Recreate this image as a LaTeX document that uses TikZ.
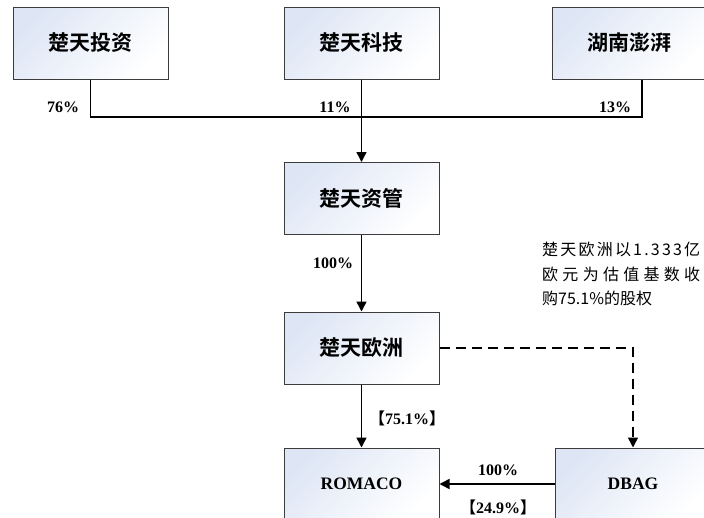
\documentclass[tikz,border=0pt]{standalone}
\usepackage{fontspec}
\setmainfont{Liberation Serif}
\newfontfamily\cjk{Noto Sans CJK SC}[BoldFont={Noto Sans CJK SC Bold}]
\usetikzlibrary{arrows.meta}
\definecolor{boxblue}{RGB}{222,230,245}
\definecolor{boxline}{RGB}{60,60,60}

\begin{document}
\begin{tikzpicture}
[x=1pt, y=-1pt,
 box/.style={draw=boxline, line width=1pt, minimum width=155pt, minimum height=72pt, inner sep=0pt,
   top color=boxblue, bottom color=white, shading angle=45},
 cn/.style={font=\cjk\bfseries\fontsize{21}{21}\selectfont},
 en/.style={font=\bfseries\fontsize{17.5}{17.5}\selectfont},
 pct/.style={font=\bfseries\fontsize{16}{16}\selectfont, inner sep=0pt},
 link/.style={line width=1.5pt},
 tip/.style={-{Triangle[width=10pt,length=10pt]}}]

\clip (0,0) rectangle (704,517);

\node (touzi) at (90.5, 43) [box, cn] {楚天投资};
\node (keji) at (361.5, 43) [box, cn] {楚天科技};
\node (hunan) at (629.5, 43) [box, cn] {湖南澎湃};
\node (ziguan) at (361.5, 198.5) [box, cn] {楚天资管};
\node (ouzhou) at (361.5, 348) [box, cn] {楚天欧洲};
\node (romaco) at (361.5, 484) [box, en] {ROMACO};
\node (dbag) at (633, 484) [box, en] {DBAG};

\coordinate (bus) at (361.5, 117);
\coordinate (bend) at (633, 348);

\node (p76) at (63, 107) [pct] {76\%};
\node (p11) at (335, 107) [pct] {11\%};
\node (p13) at (615, 107) [pct] {13\%};
\node (p100a) at (333, 263) [pct] {100\%};
\node (p751) at (407, 418) [pct] {{\cjk\bfseries 【}75.1\%{\cjk\bfseries 】}};
\node (p100b) at (498, 470) [pct] {100\%};
\node (p249) at (498, 507.5) [pct] {{\cjk\bfseries 【}24.9\%{\cjk\bfseries 】}};

\node (note) at (542, 274) [anchor=west, align=left, inner sep=0pt,
  font=\cjk\fontsize{16}{24.5}\selectfont] {%
  \hbox to 158pt{楚\hfill 天\hfill 欧\hfill 洲\hfill 以\hfill 1\hfill .\hfill 3\hfill 3\hfill 3\hfill 亿}\\
  \hbox to 158pt{欧\hfill 元\hfill 为\hfill 估\hfill 值\hfill 基\hfill 数\hfill 收}\\
  购75.1\%的股权};

\draw [link] (touzi.south) |- (bus);
\draw [link] ([xshift=12.5pt]hunan.south) |- (bus);
\draw [link, tip] (keji.south) -- (ziguan.north);
\draw [link, tip] (ziguan.south) -- (ouzhou.north);
\draw [link, tip] (ouzhou.south) -- (romaco.north);
\draw [link, tip, dash pattern=on 10pt off 6pt] (ouzhou.east) -- (bend) -- (dbag.north);
\draw [link, tip] (dbag.west) -- (romaco.east);
\end{tikzpicture}
\end{document}
